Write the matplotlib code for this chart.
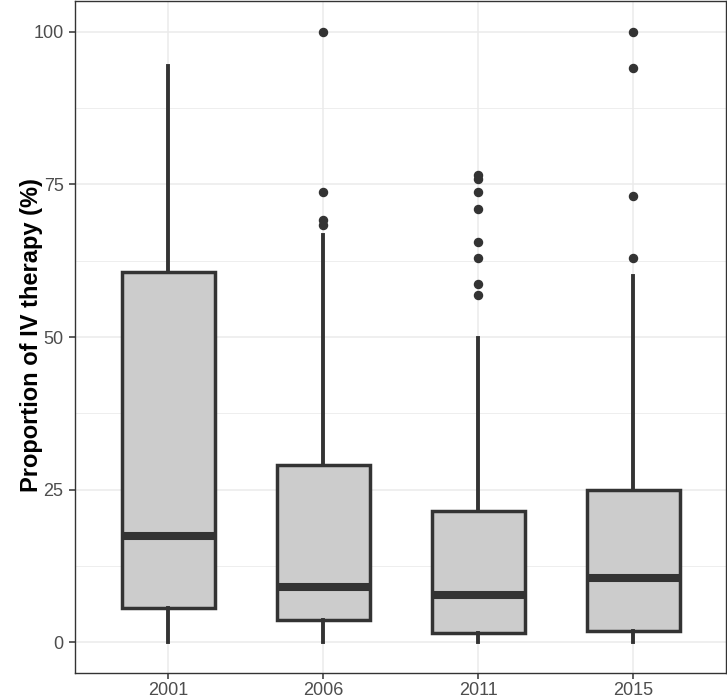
import matplotlib
matplotlib.use("Agg")
import matplotlib.pyplot as plt

plt.rcParams['font.family'] = ['Liberation Sans', 'DejaVu Sans']

years = ["2001", "2006", "2011", "2015"]
whislo = [0.0, 0.0, 0.0, 0.0]
q1 = [5.6, 3.6, 1.5, 1.8]
med = [17.4, 9.0, 7.8, 10.6]
q3 = [60.6, 29.1, 21.5, 25.0]
whishi = [94.3, 66.7, 49.8, 60.0]
fliers = [
    [],
    [100.0, 73.8, 69.2, 68.4],
    [76.5, 75.9, 73.7, 70.9, 65.5, 63.0, 58.7, 56.8],
    [100.0, 94.1, 73.1, 63.0],
]
yticks = [0, 25, 50, 75, 100]
ylabel = "Proportion of IV therapy (%)"

W, H = 727, 699
fig = plt.figure(figsize=(W / 100, H / 100), dpi=100)
ax = fig.add_axes([75 / W, 1 - 673 / H, 651 / W, 672 / H])

stats = []
for i, y in enumerate(years):
    stats.append(dict(label=y, whislo=whislo[i], q1=q1[i], med=med[i],
                      q3=q3[i], whishi=whishi[i], fliers=fliers[i]))

dark = "#333333"
ax.bxp(stats, positions=range(1, len(years) + 1), widths=0.6,
       patch_artist=True, showcaps=False,
       boxprops=dict(facecolor="#CCCCCC", edgecolor=dark, linewidth=2.5),
       medianprops=dict(color=dark, linewidth=5.8, solid_capstyle="butt"),
       whiskerprops=dict(color=dark, linewidth=2.8),
       flierprops=dict(marker="o", markerfacecolor=dark, markeredgecolor=dark,
                       markersize=5.8, linestyle="none"),
       zorder=3)

ax.set_xlim(0.4, len(years) + 0.6)
ax.set_ylim(-5, 105)
ax.set_yticks(yticks)
ax.set_yticks([12.5, 37.5, 62.5, 87.5], minor=True)
ax.set_xticks(range(1, len(years) + 1))
ax.set_xticklabels(years)

ax.grid(True, which="major", color="#EBEBEB", linewidth=1.1, zorder=0)
ax.grid(True, which="minor", axis="y", color="#EBEBEB", linewidth=0.6, zorder=0)
ax.set_axisbelow(True)

for s in ax.spines.values():
    s.set_color(dark)
    s.set_linewidth(1.0)

ax.tick_params(axis="both", which="major", length=4.2, width=1.1, color=dark,
               labelcolor="#4D4D4D", labelsize=13)
ax.tick_params(axis="x", which="major", pad=2.5)
ax.tick_params(axis="y", which="major", pad=4)
ax.tick_params(axis="both", which="minor", length=0)

fig.text(32 / W, 1 - 335 / H, ylabel, rotation=90, ha="center", va="center",
         fontsize=17, fontweight="bold", color="black")

fig.savefig("out.png", dpi=100)
